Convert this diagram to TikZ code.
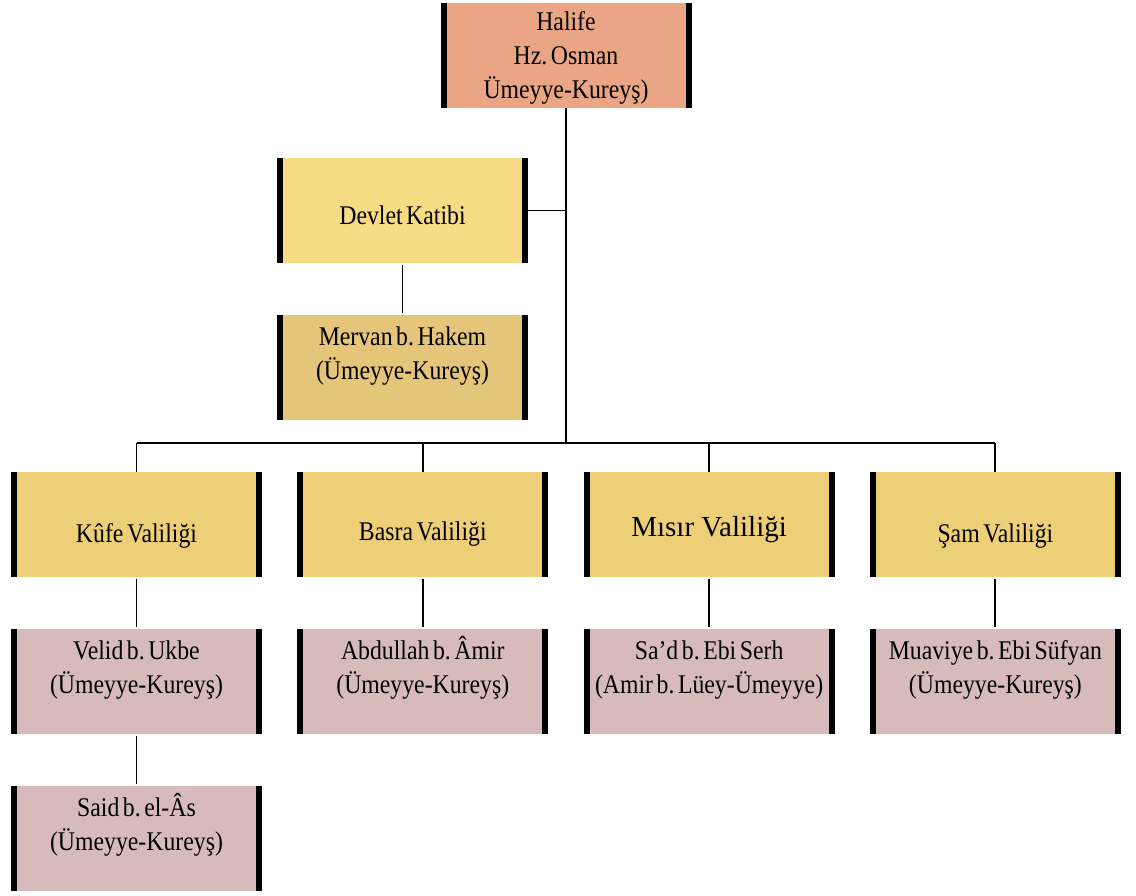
\documentclass[tikz,border=0pt]{standalone}
\usepackage{fontspec}
\setmainfont{Liberation Serif}[FakeStretch=0.88, WordSpace=0.6]
\newfontfamily\plainserif{Liberation Serif}
\usetikzlibrary{positioning,calc}
\definecolor{halifecolor}{RGB}{233,165,132}
\definecolor{katipcolor}{RGB}{246,220,132}
\definecolor{mervancolor}{RGB}{229,197,122}
\definecolor{valicolor}{RGB}{237,207,120}
\definecolor{kisicolor}{RGB}{215,187,187}
\tikzset{
    org box/.style = {
        minimum width=251pt,
        minimum height=105pt,
        inner sep=0pt,
        outer sep=0pt,
        },
    halife box/.style = {
        org box,
        fill = halifecolor,
        },
    katip box/.style = {
        org box,
        fill = katipcolor,
        },
    mervan box/.style = {
        org box,
        fill = mervancolor,
        },
    vali box/.style = {
        org box,
        fill = valicolor,
        },
    kisi box/.style = {
        org box,
        fill = kisicolor,
        },
    box text/.style = {
        font=\fontsize{27}{34}\selectfont\frenchspacing,
        align=center,
        inner sep=0pt,
        },
    side bar/.style = {
        line width=6pt,
        },
    link/.style = {
        line width=1.9pt,
        },
    trunk/.style = {
        line width=2.6pt,
        }
}
\begin{document}
\begin{tikzpicture}[
            x=1pt, y=1pt,
            node distance=52pt and 35.3pt
            ]
            \useasboundingbox (0,0) rectangle (1136,-895);

            % Boxes
            \node [halife box] (halife) at (566,-55) {};
            \node [katip box] (devlet) at (402.5,-210.5) {};
            \node [mervan box, below=of devlet] (mervan) {};

            \node [vali box] (kufe) at (136.5,-524.5) {};
            \node [vali box, right=of kufe] (basra) {};
            \node [vali box, right=of basra] (misir) {};
            \node [vali box, right=of misir] (sam) {};

            \node [kisi box, below=of kufe] (velid) {};
            \node [kisi box, below=of basra] (abdullah) {};
            \node [kisi box, below=of misir] (sad) {};
            \node [kisi box, below=of sam] (muaviye) {};
            \node [kisi box, below=of velid] (said) {};

            \foreach \n in {halife,devlet,mervan,kufe,basra,misir,sam,velid,abdullah,sad,muaviye,said}
            {
            \draw[side bar] ([xshift=3pt]\n.north west) -- ([xshift=3pt]\n.south west);
            \draw[side bar] ([xshift=-3pt]\n.north east) -- ([xshift=-3pt]\n.south east);
            }

            % Texts
            \node [box text, anchor=north] (halife text) at ([yshift=-8.6pt]halife.north) {Halife\\Hz. Osman\\Ümeyye-Kureyş)};
            \node [box text, anchor=base] (devlet text) at ([yshift=-66pt]devlet.north) {Devlet Katibi};
            \node [box text, anchor=north] (mervan text) at ([yshift=-11.6pt]mervan.north) {Mervan b. Hakem\\(Ümeyye-Kureyş)};

            \node [box text, anchor=base] (kufe text) at ([yshift=-70pt]kufe.north) {Kûfe Valiliği};
            \node [box text, anchor=base] (basra text) at ([yshift=-68pt]basra.north) {Basra Valiliği};
            \node [box text, anchor=base, font=\fontsize{29}{34}\plainserif] (misir text) at ([yshift=-64pt]misir.north) {Mısır Valiliği};
            \node [box text, anchor=base] (sam text) at ([yshift=-70pt]sam.north) {Şam Valiliği};

            \node [box text, anchor=north] (velid text) at ([yshift=-11.6pt]velid.north) {Velid b. Ukbe\\(Ümeyye-Kureyş)};
            \node [box text, anchor=north] (abdullah text) at ([yshift=-7.5pt]abdullah.north) {Abdullah b. Âmir\\(Ümeyye-Kureyş)};
            \node [box text, anchor=north] (sad text) at ([yshift=-11.6pt]sad.north) {Sa’d b. Ebi Serh\\(Amir b. Lüey-Ümeyye)};
            \node [box text, anchor=north] (muaviye text) at ([yshift=-11.6pt]muaviye.north) {Muaviye b. Ebi Süfyan\\(Ümeyye-Kureyş)};
            \node [box text, anchor=north] (said text) at ([yshift=-7.5pt]said.north) {Said b. el-Âs\\(Ümeyye-Kureyş)};

            % Connectors
            \coordinate (bus) at (566,-443);
            \draw[trunk] (halife.south) -- (bus);
            \draw[link] (devlet.east) -- (devlet.east -| halife.south);
            \draw[link] (kufe.north |- bus) -- (sam.north |- bus);
            \foreach \n in {kufe,basra,misir,sam}
                \draw[link] (\n.north) -- (\n.north |- bus);
            \foreach \a/\b in {devlet/mervan,kufe/velid,basra/abdullah,misir/sad,sam/muaviye,velid/said}
                \draw[link, shorten <=2pt, shorten >=2pt] (\a) -- (\b);
        \end{tikzpicture}
\end{document}
